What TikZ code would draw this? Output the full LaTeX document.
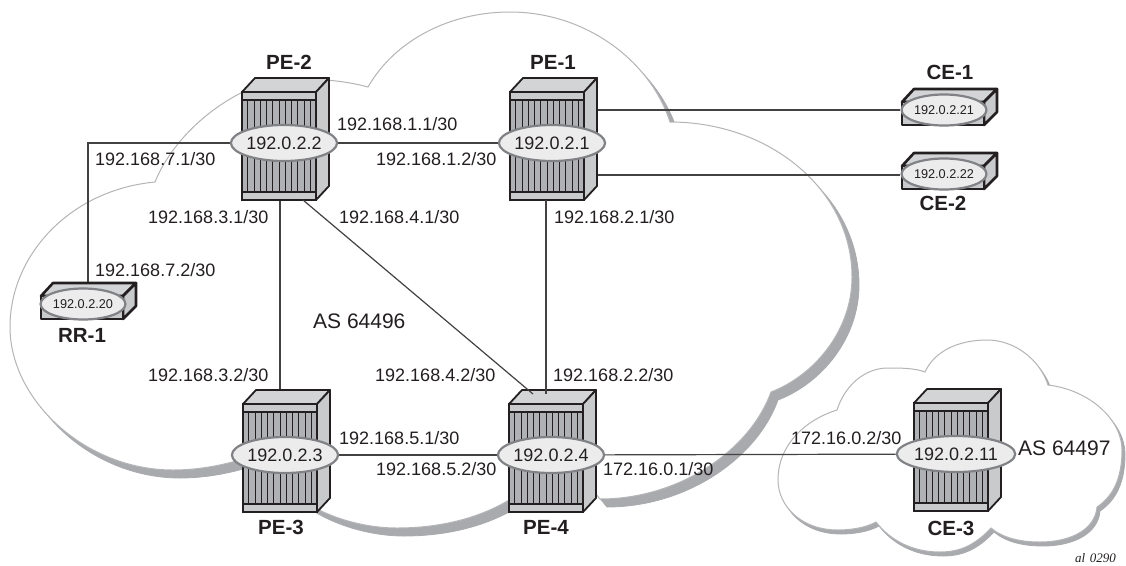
\documentclass[tikz,border=0pt]{standalone}
\usepackage{fontspec}
\setmainfont{Liberation Sans}
\newfontfamily\noteserif{Liberation Serif}
\usetikzlibrary{shapes.geometric}
\pgfdeclarelayer{cloudlayer}
\pgfdeclarelayer{linklayer}
\pgfdeclarelayer{toplayer}
\pgfsetlayers{cloudlayer,linklayer,main,toplayer}
\definecolor{ink}{HTML}{231F20}
\definecolor{shade}{HTML}{A9AAAE}
\definecolor{rim}{HTML}{B4B5B7}
\definecolor{metal}{HTML}{C9CACC}
\definecolor{metaltop}{HTML}{D3D4D5}
\definecolor{slotgrey}{HTML}{B0B1B4}
\definecolor{ringgrey}{HTML}{808285}
\definecolor{discgrey}{HTML}{ECECED}
\tikzset{
  cloudshadow/.style={fill=shade,draw=shade,line width=0.8pt},
  cloudbody/.style={fill=white,draw=rim,line width=1pt},
  link/.style={draw=ink!85,line width=1.2pt},
  chassis/.style={draw=ink,line width=1.8pt,line join=round},
  smallcase/.style={draw=ink,line width=2.6pt,line join=round},
  bigdisc/.style={ellipse,draw=ringgrey,fill=discgrey,line width=2.2pt,minimum width=94pt,minimum height=36pt,inner sep=0pt,text=ink,font=\fontsize{18}{18}\selectfont},
  smalldisc/.style={ellipse,draw=ringgrey,fill=discgrey,line width=2.2pt,minimum width=79pt,minimum height=31pt,inner sep=0pt,text=ink,font=\fontsize{12.7}{13}\selectfont},
  addr/.style={anchor=west,inner sep=0pt,text=ink,font=\fontsize{18}{18}\selectfont},
  asname/.style={anchor=west,inner sep=0pt,text=ink,font=\fontsize{21}{21}\selectfont},
  devname/.style={inner sep=0pt,text=ink,font=\fontsize{20.5}{21}\selectfont\bfseries},
}
\newcommand{\bigbox}[4]{%
  \begin{scope}[shift={(#2,#3)}]
    \filldraw[chassis,fill=metaltop] (-42,-51) -- (-29,-65) -- (45,-65) -- (32,-51) -- cycle;
    \filldraw[chassis,fill=metal] (32,-51) -- (45,-65) -- (45,43) -- (32,57) -- cycle;
    \filldraw[chassis,fill=slotgrey] (-42,-51) rectangle (32,57);
    \foreach \i in {0,...,10} {\draw[ink,line width=1pt] (-36.2+6.27*\i,-43) -- (-36.2+6.27*\i,49);}
    \filldraw[ink,fill=metal,line width=1.2pt] (-42,-51) rectangle (32,-43);
    \filldraw[ink,fill=metal,line width=1.2pt] (-42,49) rectangle (32,57);
    \draw[chassis] (-42,-51) rectangle (32,57);
  \end{scope}
  \node[bigdisc] (#1) at (#2,#3) {#4};
}
\newcommand{\smallbox}[4]{%
  \begin{scope}[shift={(#2,#3)}]
    \filldraw[smallcase,fill=metaltop] (-42,-8) -- (-30,-21) -- (53,-21) -- (40,-8) -- cycle;
    \filldraw[smallcase,fill=metal] (40,-8) -- (53,-21) -- (53,2) -- (40,15) -- cycle;
    \filldraw[smallcase,fill=metal] (-42,-8) rectangle (40,15);
  \end{scope}
  \node[smalldisc] (#1) at (#2,#3) {#4};
}
\newcommand{\maincloud}{
  (368,87) .. controls (395,40) and (450,12) .. (510,12)
  .. controls (585,12) and (650,60) .. (670,122)
  .. controls (770,122) and (852,190) .. (852,277)
  .. controls (852,330) and (815,375) .. (771,392)
  .. controls (750,450) and (680,499) .. (600,499)
  -- (560,450)
  .. controls (530,500) and (470,528) .. (397,528)
  .. controls (360,528) and (320,515) .. (295,495)
  -- (290,440)
  .. controls (250,460) and (210,470) .. (173,470)
  .. controls (85,470) and (10,400) .. (10,327)
  .. controls (10,255) and (70,190) .. (155,182)
  .. controls (170,145) and (205,110) .. (245,91)
  .. controls (270,80) and (320,74) .. (368,87) -- cycle}
\newcommand{\sidecloud}{
  (925,372) .. controls (935,350) and (960,340) .. (987,340)
  .. controls (1015,340) and (1040,360) .. (1048,385)
  .. controls (1090,390) and (1122,420) .. (1122,450)
  .. controls (1122,475) and (1115,495) .. (1097,507)
  .. controls (1095,530) and (1070,542) .. (1040,542)
  .. controls (1020,542) and (1003,538) .. (991,528)
  .. controls (975,545) and (960,552) .. (940,552)
  .. controls (912,552) and (890,540) .. (876,522)
  .. controls (865,528) and (850,530) .. (838,530)
  .. controls (800,530) and (778,505) .. (778,480)
  .. controls (778,445) and (805,420) .. (837,410)
  .. controls (845,385) and (865,368) .. (888,368)
  .. controls (900,368) and (915,368) .. (925,372) -- cycle}
\begin{document}
\begin{tikzpicture}[x=1pt,y=-1pt]
\useasboundingbox (0,0) rectangle (1126,565);
\begin{pgfonlayer}{cloudlayer}
  \fill[white] (0,0) rectangle (1126,565);
  \begin{scope}[shift={(7,8)}]\path[cloudshadow] \maincloud;\end{scope}
  \path[cloudbody] \maincloud;
  \begin{scope}[shift={(3,4)}]\path[cloudshadow] \sidecloud;\end{scope}
  \path[cloudbody] \sidecloud;
\end{pgfonlayer}

\bigbox{pe2}{284}{143}{192.0.2.2}
\bigbox{pe1}{552}{143}{192.0.2.1}
\bigbox{pe3}{285}{455}{192.0.2.3}
\bigbox{pe4}{551}{455}{192.0.2.4}
\bigbox{ce3}{956}{454}{192.0.2.11}
\smallbox{ce1}{944}{110}{192.0.2.21}
\smallbox{ce2}{944}{174}{192.0.2.22}
\smallbox{rr1}{83}{304}{192.0.2.20}

\coordinate (pe2s) at (280,200);
\coordinate (pe3n) at (280,389);
\coordinate (pe2d) at (303,200);
\coordinate (pe4d) at (533,394);
\coordinate (pe1s) at (546,200);
\coordinate (pe4n) at (546,394);
\coordinate (pe1a) at (590,110);
\coordinate (pe1b) at (590,175);
\coordinate (rr1n) at (88,285);

\begin{pgfonlayer}{linklayer}
  \draw[link] (pe2) -- (pe1);
  \draw[link] (pe3) -- (pe4);
  \draw[link] (pe4) -- (ce3);
  \draw[link] (pe1a) -- (pe1a -| ce1.west);
  \draw[link] (pe1b) -- (pe1b -| ce2.west);
  \draw[link] (rr1n) |- (pe2.west);
  \draw[link] (pe2s) -- (pe3n);
\end{pgfonlayer}
\begin{pgfonlayer}{toplayer}
  \draw[link] (pe2d) -- (pe4d);
  \draw[link] (pe1s) -- (pe4n);
\end{pgfonlayer}

\node[addr] (a1) at (337,124) {192.168.1.1/30};
\node[addr] (a2) at (376,159) {192.168.1.2/30};
\node[addr] (a3) at (95,159) {192.168.7.1/30};
\node[addr] (a4) at (148,217) {192.168.3.1/30};
\node[addr] (a5) at (339,217) {192.168.4.1/30};
\node[addr] (a6) at (554,217) {192.168.2.1/30};
\node[addr] (a7) at (95,270) {192.168.7.2/30};
\node[asname] (a8) at (313,321) {AS 64496};
\node[addr] (a9) at (148,375) {192.168.3.2/30};
\node[addr] (a10) at (375,375) {192.168.4.2/30};
\node[addr] (a11) at (553,375) {192.168.2.2/30};
\node[addr] (a12) at (339,438) {192.168.5.1/30};
\node[addr] (a13) at (376,469) {192.168.5.2/30};
\node[addr] (a14) at (603,469) {172.16.0.1/30};
\node[addr] (a15) at (791,438) {172.16.0.2/30};
\node[asname] (a16) at (1018,448) {AS 64497};

\node[devname] (n1) at (289,62) {PE-2};
\node[devname] (n2) at (553,62) {PE-1};
\node[devname] (n3) at (281,527) {PE-3};
\node[devname] (n4) at (546,527) {PE-4};
\node[devname] (n5) at (951,528) {CE-3};
\node[devname] (n6) at (950,72) {CE-1};
\node[devname] (n7) at (943,203) {CE-2};
\node[devname] (n8) at (82,335) {RR-1};
\node[anchor=east,inner sep=0pt,text=ink,font=\fontsize{13}{13}\selectfont\noteserif\itshape] (tag) at (1116,558) {al\hskip 0.35em 0290};
\end{tikzpicture}
\end{document}
